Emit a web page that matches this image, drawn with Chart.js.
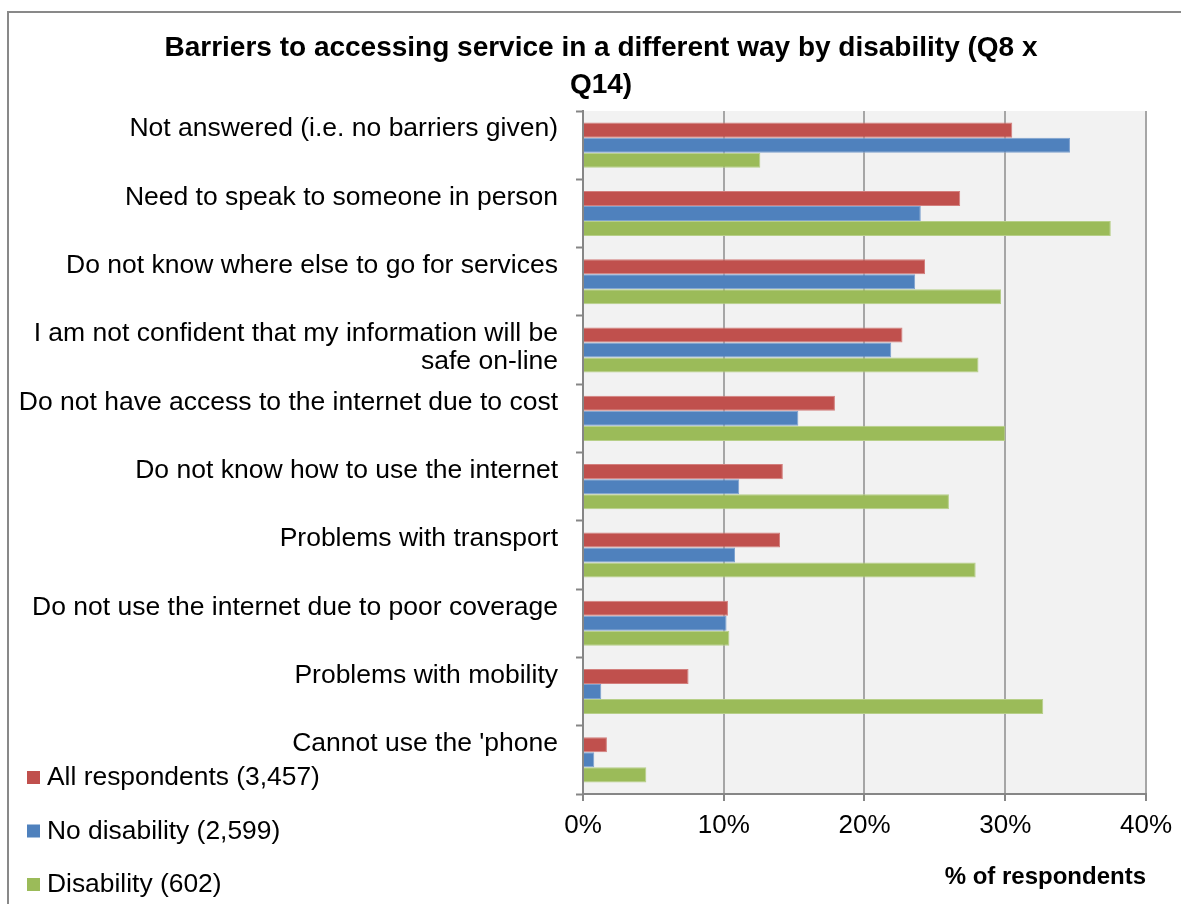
<!DOCTYPE html>
<html>
<head>
<meta charset="utf-8">
<title>Barriers to accessing service in a different way by disability</title>
<script src="https://cdn.jsdelivr.net/npm/chart.js@4/dist/chart.umd.min.js"></script>
<style>
  html, body { margin: 0; padding: 0; background: #fff; }
  canvas { display: block; }
</style>
</head>
<body>
<canvas id="barrierChart" width="1181" height="904"></canvas>
<script>
// Categories (single-line labels get an empty second line so every label sits the same way)
const barrierLabels = [
    ['Not answered (i.e. no barriers given)', ''],
    ['Need to speak to someone in person', ''],
    ['Do not know where else to go for services', ''],
    ['I am not confident that my information will be', 'safe on-line'],
    ['Do not have access to the internet due to cost', ''],
    ['Do not know how to use the internet', ''],
    ['Problems with transport', ''],
    ['Do not use the internet due to poor coverage', ''],
    ['Problems with mobility', ''],
    ["Cannot use the 'phone", '']
];

// % of respondents per group
const allRespondents = [30.5, 26.8, 24.3, 22.7, 17.9, 14.2, 14.0, 10.3, 7.5, 1.7];
const noDisability = [34.6, 24.0, 23.6, 21.9, 15.3, 11.1, 10.8, 10.2, 1.3, 0.8];
const disability = [12.6, 37.5, 29.7, 28.1, 30.0, 26.0, 27.9, 10.4, 32.7, 4.5];

const seriesNames = ['All respondents (3,457)', 'No disability (2,599)', 'Disability (602)'];
const titleLines = ['Barriers to accessing service in a different way by disability (Q8 x', 'Q14)'];
const xTicks = [0, 10, 20, 30, 40];

const FONT = "'Liberation Sans', Arial, Helvetica, sans-serif";

// grey plot background, outer frame and the two-line heading
const plotBackground = {
    id: 'plotBackground',
    beforeDraw(chart) {
        const { ctx, chartArea } = chart;
        ctx.save();
        ctx.fillStyle = '#f2f2f2';
        ctx.fillRect(chartArea.left, chartArea.top, chartArea.right - chartArea.left, chartArea.bottom - chartArea.top);
        ctx.strokeStyle = '#898989';
        ctx.lineWidth = 2;
        ctx.beginPath();
        ctx.moveTo(8, chart.height);
        ctx.lineTo(8, 12);
        ctx.lineTo(chart.width, 12);
        ctx.stroke();

        // heading is centred a little right of the canvas middle
        ctx.fillStyle = '#000';
        ctx.font = 'bold 28px ' + FONT;
        ctx.textAlign = 'center';
        ctx.textBaseline = 'middle';
        titleLines.forEach((line, i) => ctx.fillText(line, 601, 48 + i * 37));
        ctx.restore();
    }
};

// stacked legend in the bottom-left corner
const cornerLegend = {
    id: 'cornerLegend',
    afterDraw(chart) {
        const { ctx } = chart;
        const x = 27, y0 = 778, step = 53.5;
        ctx.save();
        ctx.font = '26.4px ' + FONT;
        ctx.textBaseline = 'middle';
        ctx.textAlign = 'left';
        chart.data.datasets.forEach((ds, i) => {
            const y = y0 + i * step;
            ctx.fillStyle = ds.backgroundColor;
            ctx.fillRect(x, y - 7, 13, 13);
            ctx.fillStyle = '#000';
            ctx.fillText(ds.label, x + 20, y);
        });
        ctx.restore();
    }
};

new Chart(document.getElementById('barrierChart'), {
    type: 'bar',
    data: {
        labels: barrierLabels,
        datasets: [
            { label: seriesNames[0], data: allRespondents, backgroundColor: '#c0504d', borderColor: '#d37f7d' },
            { label: seriesNames[1], data: noDisability, backgroundColor: '#4f81bd', borderColor: '#7ea2cf' },
            { label: seriesNames[2], data: disability, backgroundColor: '#9bbb59', borderColor: '#b7cf88' }
        ]
    },
    options: {
        indexAxis: 'y',
        responsive: false,
        animation: false,
        devicePixelRatio: 1,
        layout: { padding: { top: 111, left: 12, right: 31, bottom: 0 } },
        datasets: {
            bar: { categoryPercentage: 0.66, barPercentage: 1.0, borderWidth: 1 }
        },
        plugins: {
            legend: { display: false },
            tooltip: { enabled: false },
            title: { display: false }
        },
        scales: {
            x: {
                min: xTicks[0],
                max: xTicks[xTicks.length - 1],
                afterFit(scale) { scale.height = 110; },
                afterBuildTicks(scale) { scale.ticks = xTicks.map(v => ({ value: v })); },
                ticks: {
                    color: '#000',
                    padding: 9,
                    font: { family: FONT, size: 26 },
                    callback: v => v + '%'
                },
                grid: { color: '#a6a6a6', lineWidth: 2, tickLength: 7, tickColor: '#868686', tickWidth: 2 },
                border: { color: '#868686', width: 2 },
                title: {
                    display: true,
                    text: '% of respondents',
                    align: 'end',
                    color: '#000',
                    font: { family: FONT, size: 24, weight: 'bold' },
                    padding: { top: 22, bottom: 12 }
                }
            },
            y: {
                afterFit(scale) { scale.width = 571; },
                ticks: {
                    color: '#000',
                    padding: 18,
                    labelOffset: -2,
                    font: { family: FONT, size: 26.5, lineHeight: 28 / 26.5 }
                },
                grid: {
                    drawOnChartArea: false,
                    offset: true,
                    tickLength: 7,
                    tickColor: '#868686',
                    tickWidth: 2
                },
                border: { color: '#868686', width: 2 }
            }
        }
    },
    plugins: [plotBackground, cornerLegend]
});
</script>
</body>
</html>
